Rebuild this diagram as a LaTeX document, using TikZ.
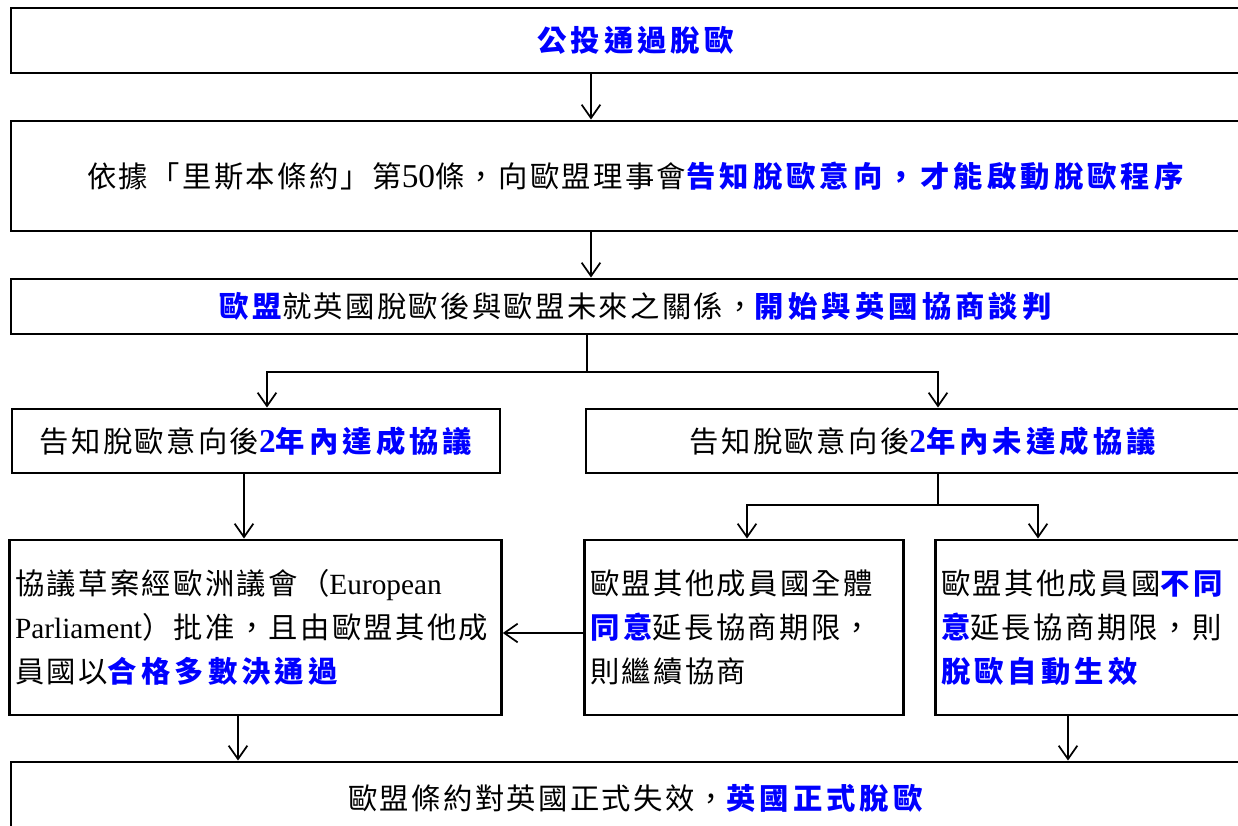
\documentclass[tikz,border=0pt]{standalone}
\usepackage{fontspec}
\setmainfont{Noto Sans CJK TC}[LetterSpace=8]
\newfontfamily\lat{Liberation Serif}
\usetikzlibrary{arrows.meta}
\definecolor{cblue}{RGB}{0,0,255}
\newcommand{\hl}[1]{{\color{cblue}\bfseries\addfontfeatures{LetterSpace=14}#1}}
\newcommand{\lt}[1]{{\lat\fontsize{22}{33}\selectfont #1}}
\newcommand{\ltd}[1]{{\lat\fontsize{25}{33}\selectfont #1}}
\newcommand{\hlt}[1]{{\color{cblue}\lat\bfseries\fontsize{25}{33}\selectfont #1}}
\begin{document}
\begin{tikzpicture}[x=0.75pt,y=-0.75pt,
  box/.style={draw, line width=2.2pt, inner sep=0pt, font=\fontsize{22}{33}\selectfont},
  tbox/.style={box, align=left, inner xsep=4pt, text width=#1},
  arr/.style={line width=1.3pt, -{Straight Barb[length=10pt,width=14pt,line width=1.3pt]}},
  ln/.style={line width=1.3pt}]
\useasboundingbox (0,0) rectangle (1238,825);
\clip (0,0) rectangle (1238,825);
\fill[white] (0,0) rectangle (1238,825);
\coordinate (c591) at (591,0);
\coordinate (c587) at (587,0);
\coordinate (c267) at (267,0);
\coordinate (c938) at (938,0);
\coordinate (c244) at (244,0);
\coordinate (c747) at (747,0);
\coordinate (c1038) at (1038,0);
\coordinate (c238) at (238,0);
\coordinate (c1068) at (1068,0);
\coordinate (h1) at (0,372);
\coordinate (h2) at (0,505);
\coordinate (h3) at (0,633);

\node[box, minimum width=936.75pt, minimum height=48.75pt] (b1) at (635.5,40.5) {\hl{公投通過脫歐}};
\node[box, minimum width=936.75pt, minimum height=82.5pt] (b2) at (635.5,176) {依據「里斯本條約」第\ltd{50}條，向歐盟理事會\hl{告知脫歐意向，才能啟動脫歐程序}};
\node[box, minimum width=936.75pt, minimum height=41.25pt] (b3) at (635.5,306.5) {\hl{歐盟}就英國脫歐後與歐盟未來之關係，\hl{開始與英國協商談判}};
\node[box, minimum width=366pt, minimum height=48pt] (b4L) at (256,441) {告知脫歐意向後\hlt{2}\hl{年內達成協議}};
\node[box, minimum width=505.5pt, minimum height=48pt] (b4R) at (923,441) {告知脫歐意向後\hlt{2}\hl{年內未達成協議}};
\node[tbox=360.75pt, minimum width=366.75pt, minimum height=131.25pt] (b5L) at (255.5,627.5) {協議草案經歐洲議會（\lt{European}\\\lt{Parliament}）批准，且由歐盟其他成\\員國以\hl{合格多數決通過}};
\node[tbox=231pt, minimum width=237pt, minimum height=131.25pt] (b5M) at (744,627.5) {歐盟其他成員國全體\\\hl{同意}延長協商期限，\\則繼續協商};
\node[tbox=236.25pt, minimum width=242.25pt, minimum height=131.25pt] (b5R) at (1098.5,627.5) {歐盟其他成員國\hl{不同}\\\hl{意}延長協商期限，則\\\hl{脫歐自動生效}};
\node[box, minimum width=936.75pt, minimum height=54pt] (b6) at (635.5,798) {歐盟條約對英國正式失效，\hl{英國正式脫歐}};

\draw[arr] (b1.south -| c591) -- (b2.north -| c591);
\draw[arr] (b2.south -| c591) -- (b3.north -| c591);
\draw[ln] (b3.south -| c587) -- (c587 |- h1);
\draw[arr] (c587 |- h1) -| (b4L.north -| c267);
\draw[arr] (c587 |- h1) -| (b4R.north -| c938);
\draw[arr] (b4L.south -| c244) -- (b5L.north -| c244);
\draw[ln] (b4R.south -| c938) -- (c938 |- h2);
\draw[arr] (c938 |- h2) -| (b5M.north -| c747);
\draw[arr] (c938 |- h2) -| (b5R.north -| c1038);
\draw[arr] (b5M.west |- h3) -- (b5L.east |- h3);
\draw[arr] (b5L.south -| c238) -- (b6.north -| c238);
\draw[arr] (b5R.south -| c1068) -- (b6.north -| c1068);
\end{tikzpicture}
\end{document}
